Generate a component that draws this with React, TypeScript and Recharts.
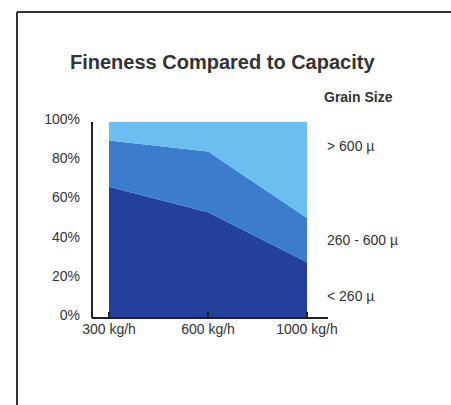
import { Area, AreaChart, XAxis, YAxis } from "recharts";

const capacities = ["300 kg/h", "600 kg/h", "1000 kg/h"];
const fine = [67, 54, 28.5];
const medium = [23.5, 31, 22.5];
const coarse = [9.5, 15, 49];
const percentTicks = [0, 20, 40, 60, 80, 100];
const grainLabels = ["> 600 µ", "260 - 600 µ", "< 260 µ"];

const data = capacities.map((capacity, i) => ({
  capacity,
  fine: fine[i],
  medium: medium[i],
  coarse: coarse[i],
}));

const FONT = "'Liberation Sans', Arial, sans-serif";
const INK = "#333";

const XTick = ({ x, y, payload }: any) => (
  <g>
    <line x1={x} y1={y} x2={x} y2={y - 6} stroke="#222" strokeWidth={2} />
    <text
      x={x}
      y={y + 16}
      textAnchor="middle"
      fontSize={14}
      fontFamily={FONT}
      fill={INK}
    >
      {payload.value}
    </text>
  </g>
);

const YTick = ({ x, y, payload }: any) => (
  <text
    x={x}
    y={y + 2}
    textAnchor="end"
    fontSize={14}
    fontFamily={FONT}
    fill={INK}
  >
    {payload.value}%
  </text>
);

const legendY = [151, 244.5, 300.5];

const App = () => (
  <div
    style={{
      position: "fixed",
      left: 0,
      top: 0,
      width: 451,
      height: 405,
      overflow: "hidden",
      background: "#fff",
    }}
  >
    <div style={{ position: "absolute", left: 0, top: 0 }}>
      <AreaChart
        width={451}
        height={405}
        data={data}
        margin={{ top: 122, right: 123, bottom: 57, left: 32 }}
      >
        <XAxis
          dataKey="capacity"
          padding={{ left: 17, right: 21 }}
          axisLine={{ stroke: "#222", strokeWidth: 2 }}
          tickLine={false}
          tickSize={0}
          tickMargin={0}
          height={30}
          interval={0}
          tick={<XTick />}
        />
        <YAxis
          domain={[0, 100]}
          ticks={percentTicks}
          width={60}
          axisLine={{ stroke: "#222", strokeWidth: 2 }}
          tickLine={false}
          tickMargin={6}
          interval={0}
          tick={<YTick />}
        />
        <Area
          type="linear"
          dataKey="fine"
          stackId="grain"
          stroke="none"
          fill="#22409c"
          fillOpacity={1}
          isAnimationActive={false}
        />
        <Area
          type="linear"
          dataKey="medium"
          stackId="grain"
          stroke="none"
          fill="#3b7ccc"
          fillOpacity={1}
          isAnimationActive={false}
        />
        <Area
          type="linear"
          dataKey="coarse"
          stackId="grain"
          stroke="none"
          fill="#6cbdf0"
          fillOpacity={1}
          isAnimationActive={false}
        />
      </AreaChart>
    </div>
    <svg
      width={451}
      height={405}
      style={{ position: "absolute", left: 0, top: 0, pointerEvents: "none" }}
    >
      <line x1={17} y1={12} x2={451} y2={12} stroke="#333" strokeWidth={2} />
      <line x1={17} y1={12} x2={17} y2={405} stroke="#333" strokeWidth={2} />
      <text x={70} y={69} fontSize={20} fontWeight="bold" fontFamily={FONT} fill={INK}>
        Fineness Compared to Capacity
      </text>
      <text x={324} y={102} fontSize={14} fontWeight="bold" fontFamily={FONT} fill={INK}>
        Grain Size
      </text>
      {grainLabels.map((label, i) => (
        <text key={label} x={327} y={legendY[i]} fontSize={14} fontFamily={FONT} fill={INK}>
          {label}
        </text>
      ))}
    </svg>
  </div>
);

export default App;
